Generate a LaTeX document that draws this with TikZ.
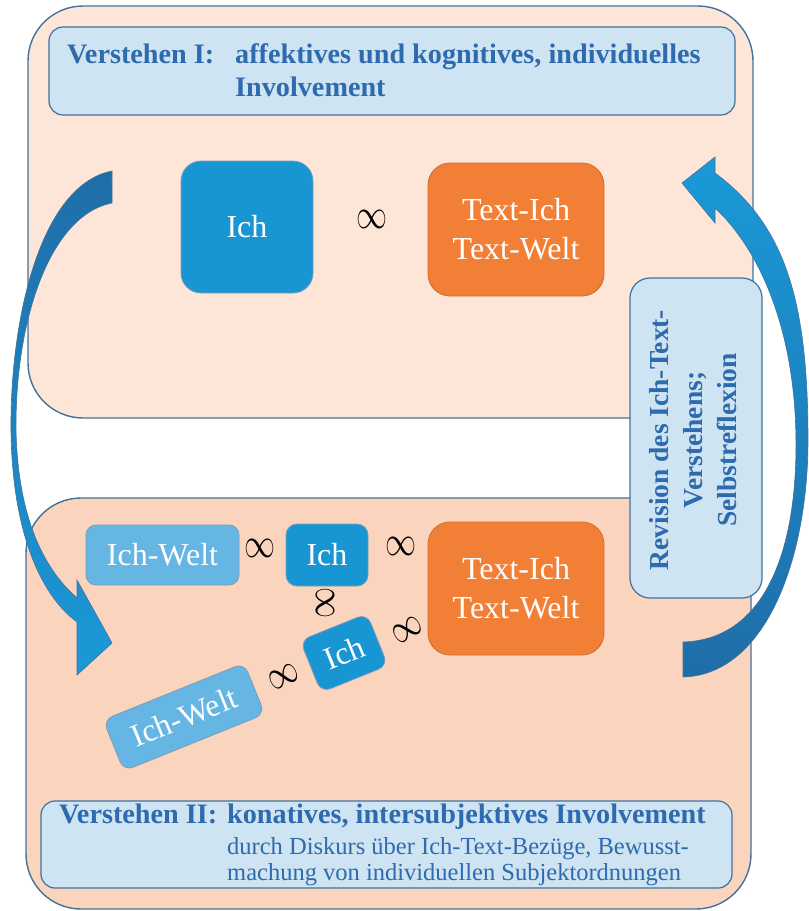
\documentclass[tikz,border=0pt]{standalone}
\usepackage{fontspec}
\setmainfont{Liberation Serif}
\definecolor{panelA}{HTML}{FDE6D8}
\definecolor{panelB}{HTML}{FBD4BE}
\definecolor{edgeblue}{HTML}{41719C}
\definecolor{hdrfill}{HTML}{CFE4F2}
\definecolor{hdrtext}{HTML}{2E6AAE}
\definecolor{ichblue}{HTML}{1896D4}
\definecolor{weltblue}{HTML}{66B6E4}
\definecolor{tiorange}{HTML}{F27F36}
\definecolor{arrowlight}{HTML}{1A9AD8}
\definecolor{arrowdark}{HTML}{1F6DA8}
\newcommand\hdrfont{\fontsize{28.2}{34}\selectfont\bfseries}
\newcommand\revfont{\fontsize{27.5}{34}\selectfont\bfseries}
\newcommand\subfont{\fontsize{24.5}{26}\selectfont}
\newcommand\boxfont{\fontsize{32}{39}\selectfont}
\begin{document}
\begin{tikzpicture}[x=1pt,y=-1pt,
  panel/.style={draw=edgeblue,line width=1.4pt,rounded corners=55pt},
  hdrbox/.style={draw=edgeblue,fill=hdrfill,line width=1.2pt,rounded corners=14pt,inner sep=0pt},
  hdrtxt/.style={text=hdrtext,font=\hdrfont,inner sep=0pt,anchor=base west},
  subtxt/.style={text=hdrtext,font=\subfont,inner sep=0pt,anchor=base west},
  box/.style={draw=edgeblue!70,line width=0.8pt,text=white,font=\boxfont,inner sep=0pt,align=center},
  ichbox/.style={box,fill=ichblue},
  weltbox/.style={box,fill=weltblue,rounded corners=10pt},
  tibox/.style={box,fill=tiorange,draw=tiorange!85!black,minimum width=176pt,minimum height=133pt,rounded corners=22pt},
  inf/.style={inner sep=0pt,xscale=3.1,yscale=4.2},
  bigarrow/.style={draw=edgeblue,line width=0.6pt}
]
\useasboundingbox (0,0) rectangle (809,911);

% panels
\draw[panel,fill=panelA] (28,6) rectangle (753,418);
\draw[panel,fill=panelB] (26,498) rectangle (751,909);

% header I
\node[hdrbox,minimum width=686pt,minimum height=88pt] (h1) at (392,71) {};
\node[hdrtxt] (h1a) at (67,63) {Verstehen I:};
\node[hdrtxt] (h1b) at (235,63) {affektives und kognitives, individuelles};
\node[hdrtxt] (h1c) at (235,96) {Involvement};

% header II
\node[hdrbox,minimum width=691pt,minimum height=87pt] (h2) at (386.5,844.5) {};
\node[hdrtxt] (h2a) at (59,823) {Verstehen II:};
\node[hdrtxt] (h2b) at (227,823) {konatives, intersubjektives Involvement};
\node[subtxt] (h2c) at (227,854) {durch Diskurs über Ich-Text-Bezüge, Bewusst-};
\node[subtxt] (h2d) at (227,880) {machung von individuellen Subjektordnungen};

% top panel content
\node[ichbox,minimum width=132pt,minimum height=132pt,rounded corners=20pt] (ich1) at (247,227) {Ich};
\node[tibox] (ti1) at (516,229.5) {Text-Ich\\Text-Welt};
\node[inf] (inf1) at (372,219) {$\infty$};

% bottom panel content
\node[weltbox,minimum width=153pt,minimum height=60pt] (iw1) at (162.5,555) {Ich-Welt};
\node[ichbox,minimum width=82pt,minimum height=62pt,rounded corners=11pt] (ich2) at (327,555) {Ich};
\node[tibox] (ti2) at (516,588.5) {Text-Ich\\Text-Welt};
\node[ichbox,minimum width=72pt,minimum height=56pt,rounded corners=10pt,rotate=22] (ich3) at (344,653) {Ich};
\node[weltbox,minimum width=152pt,minimum height=55pt,rotate=22] (iw2) at (184,717) {Ich-Welt};
\node[inf] (inf2) at (260,548) {$\infty$};
\node[inf] (inf3) at (401,546) {$\infty$};
\node[rotate=90,inf] (inf4) at (325,603) {$\infty$};
\node[rotate=30,inf] (inf5) at (407,630) {$\infty$};
\node[rotate=25,inf] (inf6) at (284,677) {$\infty$};

% revision box
\node[hdrbox,minimum width=132pt,minimum height=320pt,rounded corners=20pt] (rev) at (696,438) {};
\node[text=hdrtext,font=\revfont,inner sep=0pt,align=center,rotate=90] (revt) at (693,440)
  {Revision des Ich-Text-\\Verstehens;\\Selbstreflexion};

% left curved arrow (top -> bottom panel)
\shade[bigarrow,top color=arrowdark,bottom color=arrowlight]
  (112,171) .. controls (40,185) and (10,320) .. (11,430)
  .. controls (12,530) and (40,595) .. (77,622)
  -- (77,675) -- (112,643) -- (77,580) -- (77,598)
  .. controls (45,570) and (18,520) .. (16,430)
  .. controls (15,320) and (50,215) .. (112,203) -- cycle;

% right curved arrow (bottom -> top panel)
\shade[bigarrow,top color=arrowlight,bottom color=arrowdark]
  (683,642) -- (683,677)
  .. controls (765,675) and (808,560) .. (808,440)
  .. controls (808,300) and (785,225) .. (715,173)
  -- (715,157) -- (682,183) -- (715,223) -- (715,208)
  .. controls (760,250) and (795,330) .. (796,440)
  .. controls (797,560) and (760,640) .. (683,642) -- cycle;
\end{tikzpicture}
\end{document}
